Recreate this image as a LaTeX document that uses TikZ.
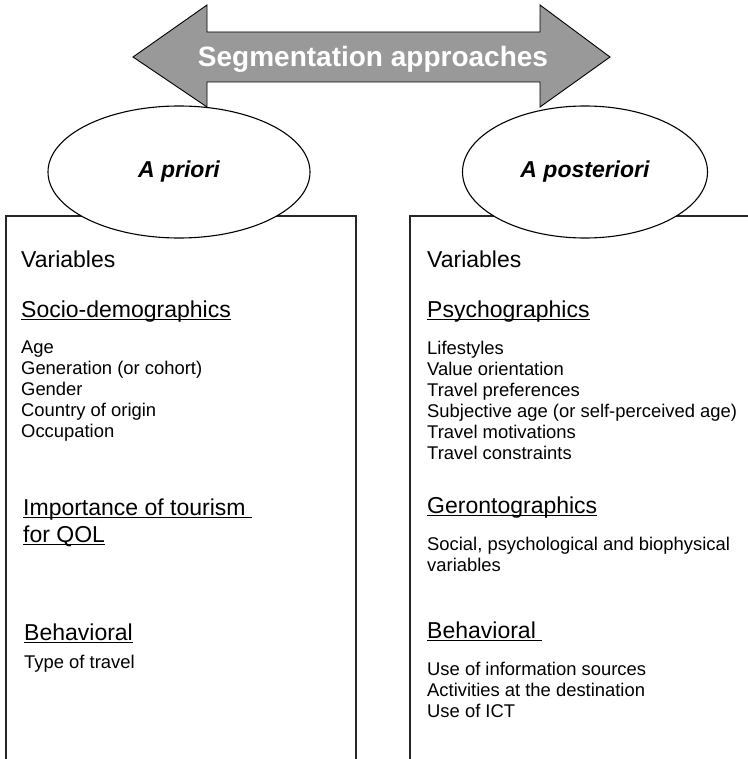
\documentclass[tikz,border=0pt]{standalone}
\usepackage{fontspec}
\setmainfont{Liberation Sans}
\usetikzlibrary{shapes.geometric}

\newcommand{\headline}[1]{\setbox0\hbox{#1}\rlap{\rule[-3pt]{\wd0}{1.3pt}}\box0}

\begin{document}
\begin{tikzpicture}[
        x=1pt, y=-1pt,
        bigarrow/.style={
            draw=black,
            line width=0.9pt,
            fill=black!40,
            line join=miter
        },
        frame/.style={
            draw=black!85,
            line width=1.8pt
        },
        approach/.style={
            draw=black,
            line width=1.1pt,
            fill=white,
            ellipse,
            inner sep=0pt,
            font=\fontsize{23}{27}\selectfont\bfseries\itshape
        },
        titletext/.style={
            anchor=base,
            inner sep=0pt,
            text=white,
            font=\fontsize{28}{32}\selectfont\bfseries
        },
        % multi-line nodes sit on the baseline of their last line
        heading/.style={
            anchor=base west,
            inner sep=0pt,
            align=left,
            font=\fontsize{23}{27}\selectfont
        },
        items/.style={
            anchor=base west,
            inner sep=0pt,
            align=left,
            font=\fontsize{18.4}{21}\selectfont
        }
    ]

    \useasboundingbox (0,0) rectangle (747,759);

    % double arrow on top
    \draw[bigarrow] (133,57) -- (207,5) -- (207,32) -- (540,32) -- (540,5)
        -- (610,57) -- (540,107) -- (540,82) -- (207,82) -- (207,107) -- cycle;
    \node[titletext] (segtitle) at (373,67) {Segmentation approaches};

    % the two open frames
    \draw[frame] (6,760) |- (356,216) -- (356,760);
    \draw[frame] (410,760) |- (750,216);

    \node[approach, minimum width=262pt, minimum height=132pt] (apriori) at (179,172) {A priori};
    \node[approach, minimum width=245pt, minimum height=132pt] (aposteriori) at (585,172) {A posteriori};

    % a priori side
    \node[heading] (lvar) at (21,267) {Variables};
    \node[heading] (lsocio) at (21,317) {\headline{Socio-demographics}};
    \node[items] (llist) at (21,437) {Age\\Generation (or cohort)\\Gender\\Country of origin\\Occupation};
    \node[heading] (limport) at (23,542) {\headline{Importance of tourism\ }\\\headline{for QOL}};
    \node[heading] (lbehav) at (24,640) {\headline{Behavioral}};
    \node[items] (ltype) at (24,668) {Type of travel};

    % a posteriori side
    \node[heading] (rvar) at (427,267) {Variables};
    \node[heading] (rpsych) at (427,317) {\headline{Psychographics}};
    \node[items] (rlist) at (427,459) {Lifestyles\\Value orientation\\Travel preferences\\Subjective age (or self-perceived age)\\Travel motivations\\Travel constraints};
    \node[heading] (rgeront) at (427,513) {\headline{Gerontographics}};
    \node[items] (rsocial) at (427,571) {Social, psychological and biophysical\\variables};
    \node[heading] (rbehav) at (427,638) {\headline{Behavioral\ }};
    \node[items] (ruse) at (427,717) {Use of information sources\\Activities at the destination\\Use of ICT};

\end{tikzpicture}
\end{document}
